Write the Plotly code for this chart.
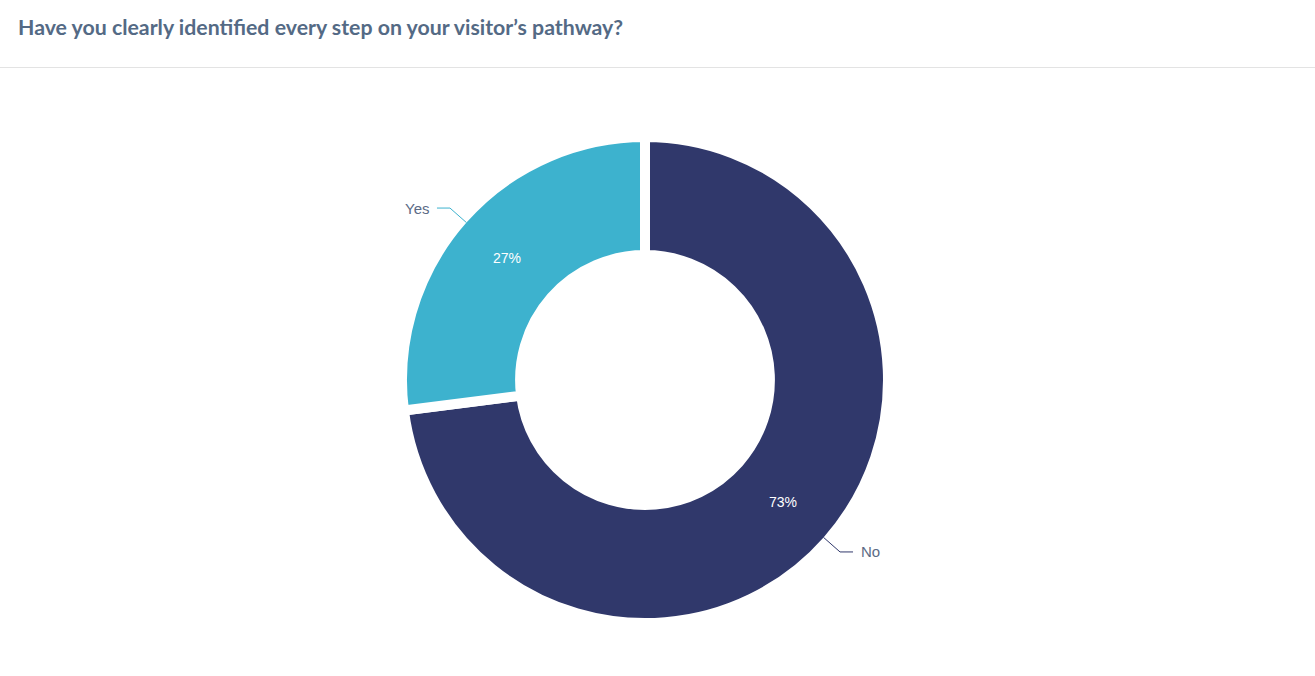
import math
import plotly.graph_objects as go

# survey answers, in drawing order (clockwise from 12 o'clock)
labels = ["No", "Yes"]
values = [73, 27]
colors = ["#30386b", "#3db2ce"]

title_text = "Have you clearly identified every step on your visitor’s pathway?"

W, H = 1315, 676
ml, mr, mt, mb = 0, 25, 137, 53
gap = 10  # white border between slices

fig = go.Figure(go.Pie(
    labels=labels,
    values=values,
    sort=False,
    direction="clockwise",
    rotation=0,
    hole=0.514,
    marker=dict(colors=colors, line=dict(color="white", width=gap)),
    textinfo="percent",
    texttemplate="%{percent:.0%}",
    textposition="inside",
    insidetextorientation="horizontal",
    textfont=dict(family="Liberation Sans, Arial", size=14, color="white"),
    showlegend=False,
    hoverinfo="label+percent",
))

# pie geometry in pixels, to place outside labels with leader lines
cx = ml + (W - ml - mr) / 2
cy = mt + (H - mt - mb) / 2
r_out = (H - mt - mb) / 2 - gap / 2


def to_paper(px, py):
    return (px - ml) / (W - ml - mr), (H - mb - py) / (H - mt - mb)


shapes = []
annotations = []
total = sum(values)
start = 0
for lab, val, col in zip(labels, values, colors):
    mid = (start + val / 2) / total * 2 * math.pi
    start += val
    sx, sy = math.sin(mid), -math.cos(mid)
    x0, y0 = cx + r_out * sx, cy + r_out * sy
    x1, y1 = cx + (r_out + 22) * sx, cy + (r_out + 22) * sy
    side = 1 if sx > 0 else -1
    x2 = x1 + side * 13
    p0, p1, p2 = to_paper(x0, y0), to_paper(x1, y1), to_paper(x2, y1)
    shapes.append(dict(
        type="path", xref="paper", yref="paper",
        path=f"M {p0[0]} {p0[1]} L {p1[0]} {p1[1]} L {p2[0]} {p2[1]}",
        line=dict(color=col, width=1),
    ))
    tx, ty = to_paper(x2 + side * 6, y1)
    annotations.append(dict(
        x=tx, y=ty, xref="paper", yref="paper", text=lab, showarrow=False,
        xanchor="left" if side > 0 else "right", yanchor="middle",
        font=dict(family="Liberation Sans, Arial", size=15, color="#5b6b86"),
    ))

# thin divider under the title
d0 = to_paper(0, 67.5)
d1 = to_paper(W, 67.5)
shapes.append(dict(type="line", xref="paper", yref="paper",
                   x0=d0[0], y0=d0[1], x1=d1[0], y1=d1[1],
                   line=dict(color="#e3e3e3", width=1)))

fig.update_layout(
    width=W,
    height=H,
    margin=dict(l=ml, r=mr, t=mt, b=mb),
    paper_bgcolor="white",
    plot_bgcolor="white",
    title=dict(
        text=f"<b>{title_text}</b>",
        x=18 / W, xref="container", xanchor="left",
        y=1 - 28 / H, yref="container", yanchor="middle",
        font=dict(family="Lato, Open Sans, sans-serif", size=21.3, color="#546a85"),
    ),
    shapes=shapes,
    annotations=annotations,
)

fig.write_html("out.html", config={"displayModeBar": False},
               post_script="document.body.style.margin = '0';")
